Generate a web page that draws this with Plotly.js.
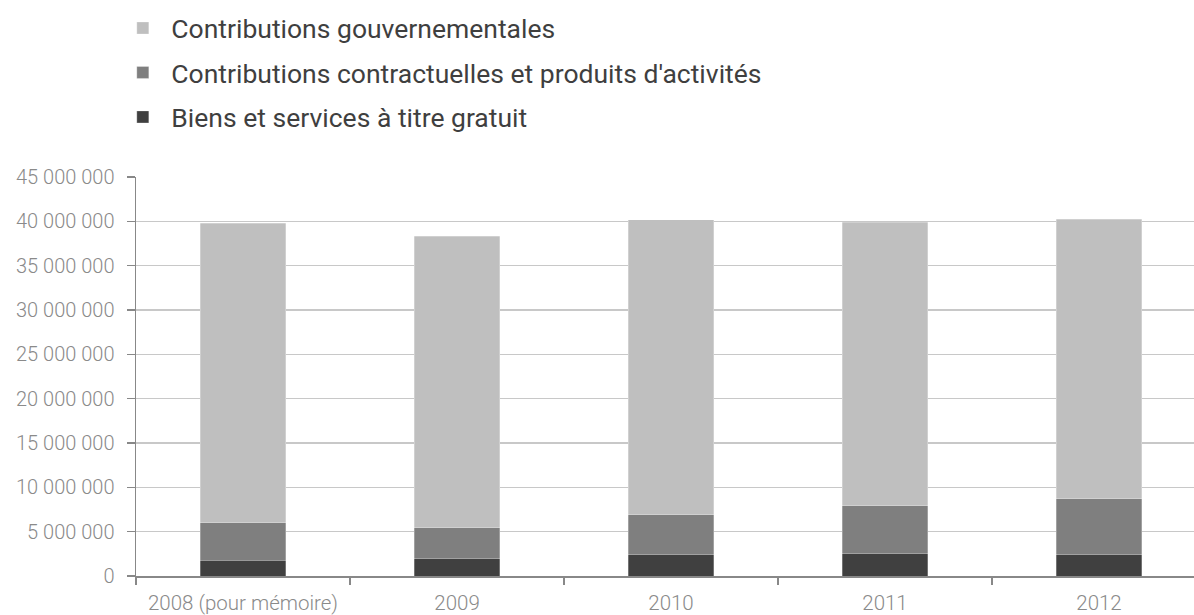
<!DOCTYPE html>
<html>
<head>
<meta charset="utf-8">
<script src="https://cdn.plot.ly/plotly-3.0.1.min.js"></script>
<style>html,body{margin:0;padding:0;background:#fff;}#chart{width:1194px;height:615px;}</style>
</head>
<body>
<div id="chart"></div>
<script>
const categories = ["2008 (pour mémoire)", "2009", "2010", "2011", "2012"];
const seriesNames = ["Biens et services à titre gratuit", "Contributions contractuelles et produits d'activités", "Contributions gouvernementales"];
const biensServices = [1770000, 1960000, 2420000, 2530000, 2370000];
const contractuelles = [4230000, 3460000, 4470000, 5370000, 6370000];
const gouvernementales = [33800000, 32880000, 33310000, 32000000, 31510000];
const yTicks = [0, 5000000, 10000000, 15000000, 20000000, 25000000, 30000000, 35000000, 40000000, 45000000];
const colors = ["#404040", "#7f7f7f", "#bfbfbf"];
const legendRanks = [3, 2, 1];

const values = [biensServices, contractuelles, gouvernementales];
const traces = values.map((v, i) => ({
  type: "bar",
  name: seriesNames[i],
  x: categories,
  y: v,
  legendgroup: "g" + i,
  legendrank: legendRanks[i],
  marker: {color: colors[i], line: {color: "rgba(255,255,255,0.45)", width: 0.6}},
  hoverinfo: "x+y+name"
}));

const layout = {
  width: 1194,
  height: 615,
  barmode: "stack",
  bargap: 0.6,
  separators: ", ",
  paper_bgcolor: "#ffffff",
  plot_bgcolor: "#ffffff",
  margin: {l: 136, r: 0, t: 177, b: 39, pad: 0},
  font: {family: "Roboto, 'Open Sans', sans-serif", color: "#8a8a8a"},
  showlegend: true,
  legend: {
    orientation: "v",
    traceorder: "grouped",
    tracegroupgap: 7,
    itemwidth: 47,
    x: -0.0205, xanchor: "left", xref: "paper",
    y: 0.993, yanchor: "top", yref: "container",
    font: {size: 26.5, color: "#3f3f3f", family: "Roboto, sans-serif"},
    bgcolor: "rgba(0,0,0,0)"
  },
  xaxis: {
    type: "category",
    range: [-0.5, 4.444],
    tickson: "boundaries",
    ticks: "outside",
    ticklen: 7,
    tickcolor: "#888888",
    tickwidth: 1.3,
    showline: true,
    linecolor: "#888888",
    linewidth: 1.5,
    showgrid: false,
    ticklabelstandoff: 8,
    tickfont: {size: 20.5, color: "#8a8a8a", family: "Roboto, sans-serif", weight: 300},
    fixedrange: true
  },
  yaxis: {
    range: [0, 45000000],
    tickmode: "array",
    tickvals: yTicks,
    tickformat: ",d",
    ticks: "outside",
    ticklen: 8,
    tickcolor: "#888888",
    tickwidth: 1.3,
    showline: true,
    linecolor: "#888888",
    linewidth: 1.5,
    showgrid: true,
    gridcolor: "#c8c8c8",
    gridwidth: 1.3,
    zeroline: false,
    ticklabelstandoff: 8,
    tickfont: {size: 20, color: "#8a8a8a", family: "Roboto, sans-serif", weight: 300},
    fixedrange: true
  }
};

Plotly.newPlot("chart", traces, layout, {displayModeBar: false, staticPlot: true});
</script>
</body>
</html>
